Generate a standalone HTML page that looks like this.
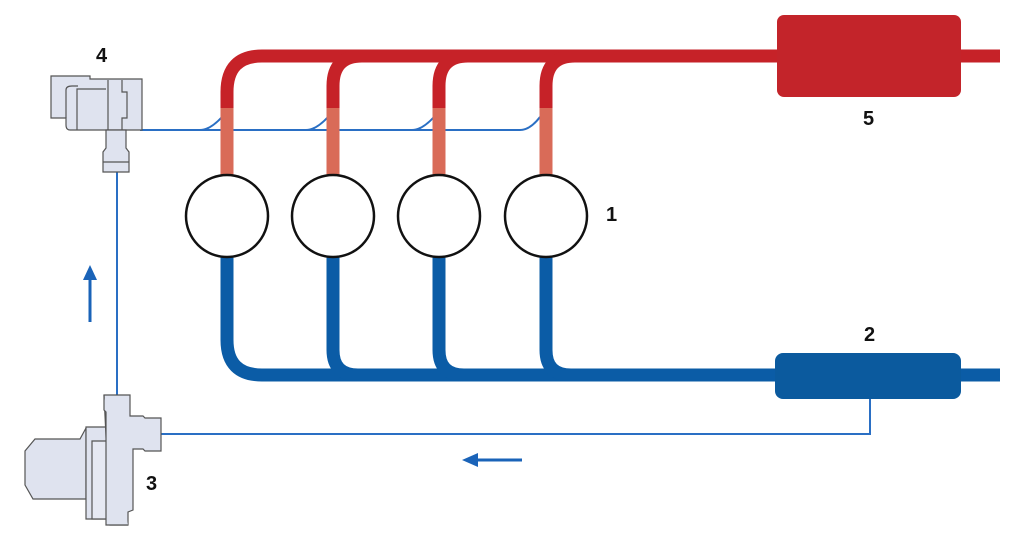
<!DOCTYPE html>
<html><head><meta charset="utf-8"><style>
html,body{margin:0;padding:0;background:#fff;width:1024px;height:549px;overflow:hidden}
text{font-family:"Liberation Sans",sans-serif;font-weight:bold;font-size:20px;fill:#111}
</style></head><body>
<svg width="1024" height="549" viewBox="0 0 1024 549" xmlns="http://www.w3.org/2000/svg">
<g fill="none" stroke="#2a6fc4" stroke-width="2">
<path d="M140 130 H520 Q530 130 540 117"/>
<path d="M200 130 Q210 130 222 117"/>
<path d="M306 130 Q316 130 328 117"/>
<path d="M412 130 Q422 130 434 117"/>
<path d="M117 168 V396"/>
<path d="M160 434 H870 V398"/>
</g>
<g fill="none" stroke-width="13">
<path d="M227 110 V92 Q227 56 262 56 H1000" stroke="#c62228"/>
<path d="M333 110 V86 Q333 56 362 56" stroke="#c62228"/>
<path d="M439 110 V86 Q439 56 468 56" stroke="#c62228"/>
<path d="M546 110 V86 Q546 56 575 56" stroke="#c62228"/>
<g stroke="#d96b58">
<path d="M227 108 V176"/><path d="M333 108 V176"/><path d="M439 108 V176"/><path d="M546 108 V176"/>
</g>
<g stroke="#0b5ca6">
<path d="M227 256 V340 Q227 375 262 375 H1000"/>
<path d="M333 256 V350 Q333 375 358 375"/>
<path d="M439 256 V350 Q439 375 464 375"/>
<path d="M546 256 V350 Q546 375 571 375"/>
</g>
</g>
<g fill="#fff" stroke="#111" stroke-width="2.5">
<circle cx="227" cy="216" r="41"/><circle cx="333" cy="216" r="41"/><circle cx="439" cy="216" r="41"/><circle cx="546" cy="216" r="41"/>
</g>
<rect x="777" y="15" width="184" height="82" rx="7" fill="#c3242a"/>
<rect x="775" y="353" width="186" height="46" rx="8" fill="#0b5a9e"/>
<g fill="#dfe3ef" stroke="#555" stroke-width="1.2">
<path d="M51 76 H90 V79 H142 V130 H70 Q66 130 66 125 V118 H51 Z"/>
<path d="M66 118 V90 Q66 86 72 86 H78"/>
<path d="M77 130 V89 H106"/>
<path d="M108 80 V130"/><path d="M122 80 V92 H127 V118 H122 V130"/>
<path d="M106 130 H126 V148 L129 152 V172 H103 V152 L106 148 Z"/>
<path d="M103 162 H129"/>
</g>
<g fill="#dfe3ef" stroke="#555" stroke-width="1.2">
<path d="M35 439 H80 L86 428 V499 L80 499 L33 499 L25 485 V451 Z"/>
<path d="M86 427 H110 V519 H86 Z"/>
<path d="M92 441 H110 V519 H92 Z" fill="#e6e9f3"/>
<path d="M104 395 H130 V416 H143 L145 418 H161 V451 H145 L143 449 H133 V510 L128 512 V525 H110 V519 H110 Z"/>
<path d="M104 395 V410 L106 412 V525 H128"/>
</g>
<g stroke="#1a63b8" stroke-width="3" fill="#1a63b8">
<line x1="90" y1="322" x2="90" y2="278"/><path d="M83 280 L90 265 L97 280 Z" stroke="none"/>
<line x1="522" y1="460" x2="476" y2="460"/><path d="M478 453 L462 460 L478 467 Z" stroke="none"/>
</g>
<text x="96" y="62">4</text>
<text x="863" y="125">5</text>
<text x="606" y="221">1</text>
<text x="864" y="341">2</text>
<text x="146" y="490">3</text>
</svg>
</body></html>
